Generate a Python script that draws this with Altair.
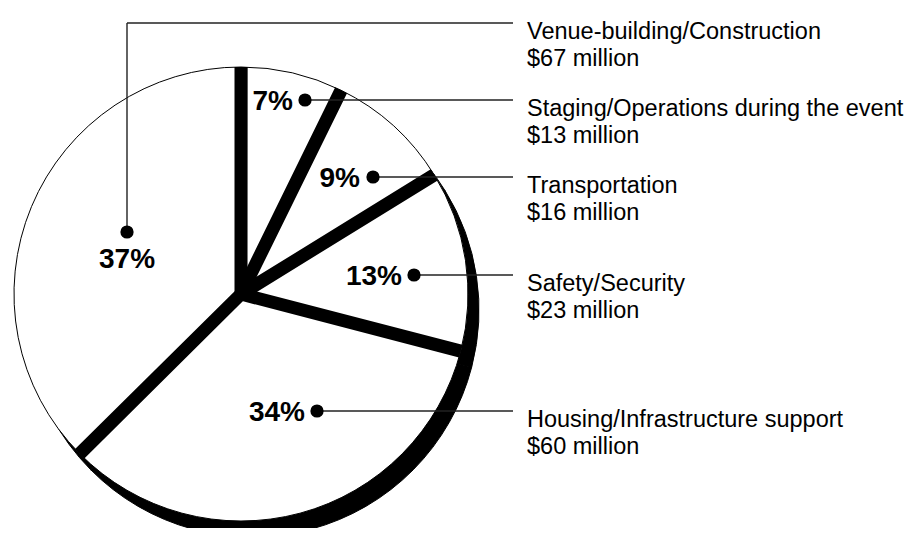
import math
import altair as alt
import pandas as pd

# ---------------- data ----------------
categories = [
    "Staging/Operations during the event",
    "Transportation",
    "Safety/Security",
    "Housing/Infrastructure support",
    "Venue-building/Construction",
]
values = [13, 16, 23, 60, 67]  # $ million

# ---------------- layout (chart pixel coordinates) ----------------
CX, CY, R = 233, 286, 227          # pie centre and radius
SHADOW_DX, SHADOW_DY = 11, 16      # offset of the black drop shadow
GAP = 13                           # width of the black separators
dot_x = [297, 365, 406, 309, 119]
dot_y = [92, 169, 267, 403, 224]
leader_y = [92, 169, 267, 403, 15]  # height of the horizontal leader
pct_align = ["right", "right", "right", "right", "center"]
pct_dx = [-12, -13, -12, -12, 0]
pct_dy = [10, 10, 10, 10, 36]
LEADER_END_X = 505
LABEL_X = 519
LINE1_DY, LINE2_DY = 16, 43
FONT = "Liberation Sans"

# ---------------- tables built from the arrays ----------------
total = sum(values)
df = pd.DataFrame({"category": categories, "value": values})
df["end"] = df["value"].cumsum()
df["start"] = df["end"] - df["value"]
df["pct"] = [f"{round(v / total * 100)}%" for v in values]
df["amount"] = [f"${v} million" for v in values]
df["dot_x"] = dot_x
df["dot_y"] = dot_y
df["leader_y"] = leader_y
df["pct_x"] = [x + d for x, d in zip(dot_x, pct_dx)]
df["pct_y"] = [y + d for y, d in zip(dot_y, pct_dy)]
df["pct_align"] = pct_align
df["lab1_y"] = [y + LINE1_DY for y in leader_y]
df["lab2_y"] = [y + LINE2_DY for y in leader_y]

segs = []
for c, x, y, ly in zip(categories, dot_x, dot_y, leader_y):
    if ly != y:
        segs.append({"category": c, "x": x, "x2": x, "y": y, "y2": ly})
    segs.append({"category": c, "x": x, "x2": LEADER_END_X, "y": ly, "y2": ly})
seg_df = pd.DataFrame(segs)

theta_scale = alt.Scale(domain=[0, total], range=[0, 2 * math.pi])
base = alt.Chart(df)

shadow = base.mark_arc(radius=R, fill="black", stroke="black", strokeWidth=1).encode(
    theta=alt.Theta("start:Q", scale=theta_scale, stack=None),
    theta2="end:Q",
    x=alt.value(CX + SHADOW_DX),
    y=alt.value(CY + SHADOW_DY),
)

slices = base.mark_arc(radius=R, fill="white", stroke="black", strokeWidth=1).encode(
    theta=alt.Theta("start:Q", scale=theta_scale, stack=None),
    theta2="end:Q",
    x=alt.value(CX),
    y=alt.value(CY),
)

separators = (
    base.transform_calculate(sep_end="datum.start + 0.02")
    .mark_arc(radius=R - GAP / 2, fill="black", stroke="black",
              strokeWidth=GAP, strokeJoin="miter", strokeMiterLimit=4)
    .encode(
        theta=alt.Theta("start:Q", scale=theta_scale, stack=None),
        theta2="sep_end:Q",
        x=alt.value(CX),
        y=alt.value(CY),
    )
)

leaders = alt.Chart(seg_df).mark_rule(stroke="#222222", strokeWidth=1.4).encode(
    x=alt.X("x:Q", scale=None, axis=None),
    x2="x2:Q",
    y=alt.Y("y:Q", scale=None, axis=None),
    y2="y2:Q",
)

dots = base.mark_circle(size=175, color="black", opacity=1).encode(
    x=alt.X("dot_x:Q", scale=None, axis=None),
    y=alt.Y("dot_y:Q", scale=None, axis=None),
)

pct_right = base.transform_filter("datum.pct_align == 'right'").mark_text(
    font=FONT, fontWeight="bold", fontSize=28, align="right",
    baseline="alphabetic", color="black",
).encode(
    x=alt.X("pct_x:Q", scale=None, axis=None),
    y=alt.Y("pct_y:Q", scale=None, axis=None),
    text="pct:N",
)

pct_center = base.transform_filter("datum.pct_align == 'center'").mark_text(
    font=FONT, fontWeight="bold", fontSize=28, align="center",
    baseline="alphabetic", color="black",
).encode(
    x=alt.X("pct_x:Q", scale=None, axis=None),
    y=alt.Y("pct_y:Q", scale=None, axis=None),
    text="pct:N",
)

label1 = base.mark_text(
    font=FONT, fontSize=23.5, align="left", baseline="alphabetic", color="black"
).encode(
    x=alt.value(LABEL_X),
    y=alt.Y("lab1_y:Q", scale=None, axis=None),
    text="category:N",
)

label2 = base.mark_text(
    font=FONT, fontSize=23.5, align="left", baseline="alphabetic", color="black"
).encode(
    x=alt.value(LABEL_X),
    y=alt.Y("lab2_y:Q", scale=None, axis=None),
    text="amount:N",
)

chart = (
    alt.layer(shadow, slices, separators, leaders, dots, pct_right, pct_center,
              label1, label2)
    .properties(width=899, height=520, autosize=alt.AutoSizeParams(type="none"),
                padding=0, background="white")
    .configure_view(stroke=None)
)

chart.save("out.html", embed_options={"renderer": "svg", "actions": False})
